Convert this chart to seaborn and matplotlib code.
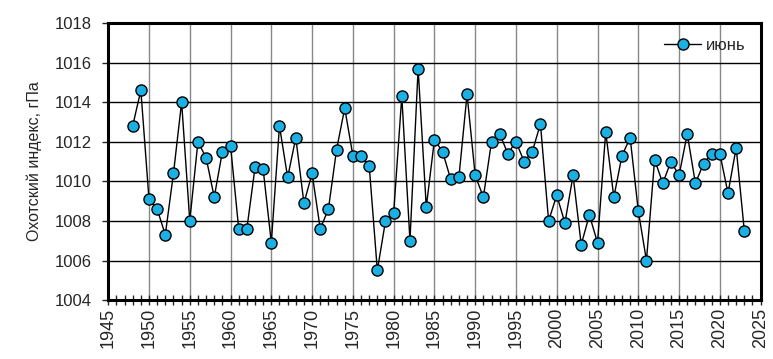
import matplotlib
matplotlib.use('Agg')
import matplotlib.pyplot as plt
import numpy as np
import pandas as pd
import seaborn as sns
from matplotlib.ticker import MultipleLocator

years = list(range(1948, 2024))
june = [1012.8, 1014.6, 1009.1, 1008.6, 1007.3, 1010.4, 1014.0, 1008.0, 1012.0, 1011.2,
        1009.2, 1011.5, 1011.8, 1007.6, 1007.6, 1010.7, 1010.6, 1006.9, 1012.8, 1010.2,
        1012.2, 1008.9, 1010.4, 1007.6, 1008.6, 1011.6, 1013.7, 1011.3, 1011.3, 1010.8,
        1005.5, 1008.0, 1008.4, 1014.3, 1007.0, 1015.7, 1008.7, 1012.1, 1011.5, 1010.1,
        1010.2, 1014.4, 1010.3, 1009.2, 1012.0, 1012.4, 1011.4, 1012.0, 1011.0, 1011.5,
        1012.9, 1008.0, 1009.3, 1007.9, 1010.3, 1006.8, 1008.3, 1006.9, 1012.5, 1009.2,
        1011.3, 1012.2, 1008.5, 1006.0, 1011.1, 1009.9, 1011.0, 1010.3, 1012.4, 1009.9,
        1010.9, 1011.4, 1011.4, 1009.4, 1011.7, 1007.5]

df = pd.DataFrame({'year': years, 'value': june})

sns.set_style('white')
plt.rcParams['font.family'] = ['Liberation Sans', 'DejaVu Sans']

fig = plt.figure(figsize=(7.73, 3.59), dpi=100)
ax = fig.add_axes([0.140, 0.164, 0.844, 0.772])

sns.lineplot(data=df, x='year', y='value', ax=ax, color='black', linewidth=1,
             marker='o', markersize=8, markerfacecolor='#1ab0e4',
             markeredgecolor='black', markeredgewidth=1, label='июнь')

ax.set_xlim(1945, 2025)
ax.set_ylim(1004, 1018)
ax.xaxis.set_major_locator(MultipleLocator(5))
ax.xaxis.set_minor_locator(MultipleLocator(1))
ax.yaxis.set_major_locator(MultipleLocator(2))

ax.grid(False)
ax.xaxis.grid(True, which='major', color='#888888', linewidth=1)
ax.yaxis.grid(True, which='major', color='black', linewidth=1)
ax.set_axisbelow(True)

for s in ax.spines.values():
    s.set_linewidth(2.2)
    s.set_color('black')

ax.tick_params(axis='x', which='both', direction='inout', length=7, width=1,
               bottom=True, labelsize=13, labelrotation=90, pad=2)
ax.tick_params(axis='x', which='minor', length=7)
ax.tick_params(axis='y', which='major', direction='out', length=4, width=1,
               left=True, labelsize=12, pad=8)

ax.set_xlabel('')
ax.set_ylabel('Охотский индекс, гПа', fontsize=11.5, labelpad=9)

leg = ax.legend(loc='upper right', frameon=False, fontsize=12,
                handlelength=2.2, handletextpad=0.3, borderaxespad=0.5)

fig.savefig('out.png', dpi=100)
